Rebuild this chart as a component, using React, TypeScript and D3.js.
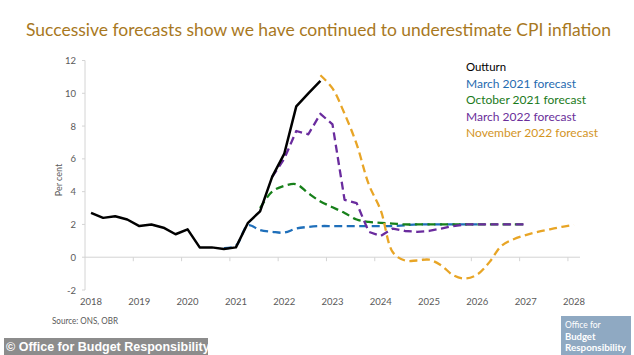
import React from "react";
import * as d3 from "d3";

// ---- data (quarterly, index 0 = 2018 Q1) ----
const outturnStart = 0;
const outturn = [2.7, 2.4, 2.5, 2.3, 1.9, 2.0, 1.8, 1.4, 1.7, 0.6, 0.6, 0.5, 0.6, 2.1, 2.8, 4.9, 6.3, 9.2, 10.0, 10.75];
const mar21Start = 11;
const mar21 = [0.55, 0.7, 1.95, 1.65, 1.55, 1.5, 1.75, 1.85, 1.9, 1.9, 1.9, 1.9, 1.9, 1.9, 1.9, 1.95, 2.0, 2.0, 2.0, 2.0, 2.0, 2.0];
const oct21Start = 14;
const oct21 = [3.0, 4.0, 4.35, 4.45, 3.9, 3.4, 3.05, 2.7, 2.3, 2.15, 2.1, 2.05, 2.0, 2.0, 2.0, 2.0, 2.0, 2.0, 2.0, 2.0, 2.0, 2.0, 2.0];
const mar22Start = 15;
const mar22 = [4.9, 6.0, 7.7, 7.5, 8.75, 8.1, 3.5, 3.3, 1.55, 1.3, 1.75, 1.6, 1.55, 1.6, 1.75, 1.9, 2.0, 2.0, 2.0, 2.0, 2.0, 2.0];
const nov22Start = 19;
const nov22 = [11.1, 10.3, 8.75, 6.9, 4.45, 2.85, 0.3, -0.2, -0.2, -0.15, -0.5, -1.1, -1.3, -1.05, -0.3, 0.7, 1.1, 1.35, 1.55, 1.7, 1.85, 1.97];

const yTicks = [-2, 0, 2, 4, 6, 8, 10, 12];
const xYears = [2018, 2019, 2020, 2021, 2022, 2023, 2024, 2025, 2026, 2027, 2028];
const legendLabels = ["Outturn", "March 2021 forecast", "October 2021 forecast", "March 2022 forecast", "November 2022 forecast"];
const legendWidths = [40, 110, 120, 110, 132];

const title = "Successive forecasts show we have continued to underestimate CPI inflation";

type Series = { name: string; start: number; values: number[]; color: string; text: string; dashed: boolean; smooth: boolean; lw: number };

const series: Series[] = [
  { name: legendLabels[1], start: mar21Start, values: mar21, color: "#1F6FBA", text: "#1F6BB0", dashed: true, smooth: true, lw: legendWidths[1] },
  { name: legendLabels[2], start: oct21Start, values: oct21, color: "#17801A", text: "#1A7A1A", dashed: true, smooth: true, lw: legendWidths[2] },
  { name: legendLabels[3], start: mar22Start, values: mar22, color: "#6A2C9E", text: "#6A2E9A", dashed: true, smooth: false, lw: legendWidths[3] },
  { name: legendLabels[4], start: nov22Start, values: nov22, color: "#E8A526", text: "#D3951F", dashed: true, smooth: true, lw: legendWidths[4] },
  { name: legendLabels[0], start: outturnStart, values: outturn, color: "#000000", text: "#000000", dashed: false, smooth: false, lw: legendWidths[0] },
];

const legendOrder = [4, 0, 1, 2, 3];

export default function App() {
  const x = d3.scaleLinear().domain([2018, 2028.25]).range([85, 580]);
  const y = d3.scaleLinear().domain([-2, 12]).range([290, 60.5]);
  const qTime = (i: number) => 2018 + 0.125 + 0.25 * i;

  const font = "Lato, 'DejaVu Sans', sans-serif";
  const axisGrey = "#D4D4D4";
  const labelGrey = "#5A5A5A";

  return (
    <svg width={634} height={355} style={{ position: "absolute", left: 0, top: 0, background: "#fff" }} fontFamily={font}>
      <rect x={0} y={0} width={634} height={355} fill="#fff" />
      <text x={26} y={36} fontSize={17} fill="#A8781E" textLength={585} lengthAdjust="spacingAndGlyphs">{title}</text>

      {/* y axis */}
      <line x1={x(2018)} x2={x(2018)} y1={y(-2)} y2={y(12)} stroke={axisGrey} strokeWidth={1} />
      {yTicks.map((t) => (
        <g key={t}>
          <line x1={x(2018) - 3} x2={x(2018)} y1={y(t)} y2={y(t)} stroke={axisGrey} />
          <text x={76} y={y(t) + 3.5} fontSize={9.5} fill={labelGrey} textAnchor="end">{t}</text>
        </g>
      ))}
      <text transform={`translate(62,${180}) rotate(-90)`} fontSize={9} fill={labelGrey} textAnchor="middle">Per cent</text>

      {/* x axis at zero */}
      <line x1={x(2018)} x2={x(2028.25)} y1={y(0)} y2={y(0)} stroke={axisGrey} strokeWidth={1} />
      {xYears.map((yr) => (
        <g key={yr}>
          {yr > 2018 && <line x1={x(yr)} x2={x(yr)} y1={y(0)} y2={y(0) + 4} stroke={axisGrey} />}
          <text x={x(yr + 0.125)} y={305} fontSize={9.5} fill={labelGrey} textAnchor="middle">{yr}</text>
        </g>
      ))}

      {/* lines */}
      {series.map((s) => {
        const gen = d3
          .line<number>()
          .x((_, i) => x(qTime(s.start + i)))
          .y((v) => y(v))
          .curve(s.smooth ? d3.curveCatmullRom.alpha(0.5) : d3.curveLinear);
        return (
          <path
            key={s.name}
            d={gen(s.values) || ""}
            fill="none"
            stroke={s.color}
            strokeWidth={s.dashed ? 2.3 : 2.5}
            strokeDasharray={s.dashed ? "8,4.5" : undefined}
            strokeLinejoin="round"
          />
        );
      })}

      {/* legend */}
      {legendOrder.map((idx, k) => {
        const s = series[idx];
        return (
          <text key={s.name} x={466} y={71 + k * 16.5} fontSize={11.5} fill={s.text} textLength={s.lw} lengthAdjust="spacingAndGlyphs">{s.name}</text>
        );
      })}

      <text x={52} y={324} fontSize={9.5} fill={labelGrey} textLength={66} lengthAdjust="spacingAndGlyphs">Source: ONS, OBR</text>

      {/* OBR logo */}
      <rect x={561} y={316} width={70} height={39} fill="#8FA9C2" />
      <text x={565} y={328} fontSize={8.5} fill="#fff">Office for</text>
      <text x={565} y={340} fontSize={9.5} fontWeight="bold" fill="#fff">Budget</text>
      <text x={565} y={351} fontSize={9.5} fontWeight="bold" fill="#fff" textLength={61} lengthAdjust="spacingAndGlyphs">Responsibility</text>

      {/* copyright */}
      <rect x={4} y={338} width={204} height={17} fill="#8C8C8C" />
      <text x={6} y={351} fontSize={12.5} fontWeight="bold" fill="#fff" fontFamily="'Liberation Sans', Arial, sans-serif">© Office for Budget Responsibility</text>
    </svg>
  );
}
